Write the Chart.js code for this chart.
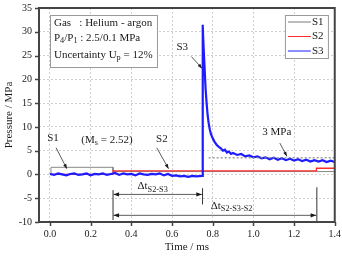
<!DOCTYPE html>
<html>
<head>
<meta charset="utf-8">
<script src="https://cdn.jsdelivr.net/npm/chart.js@4.4.1/dist/chart.umd.min.js"></script>
<style>
  html, body { margin: 0; padding: 0; background: #fff; }
  #wrap { width: 342px; height: 256px; }
</style>
</head>
<body>
<div id="wrap"><canvas id="chart"></canvas></div>
<script>
// --- data ---
const seriesNames = ['S1', 'S2', 'S3'];
const seriesColors = ['#7a7a7a', '#ff2a2a', '#1c1cff'];
const xTicks = [0.0, 0.2, 0.4, 0.6, 0.8, 1.0, 1.2, 1.4];
const yTicks = [-10, -5, 0, 5, 10, 15, 20, 25, 30, 35];

// S1 : incident shock arrives right after t = 0
const s1Time = [0.0, 0.005, 0.005, 0.31, 0.31, 1.31, 1.31, 1.40];
const s1Pres = [0.0, 0.0, 1.5, 1.5, 0.6, 0.6, 0.6, 0.6];

// S2 : incident shock ~0.31 ms, reflected shock ~1.31 ms
const s2Time = [0.0, 0.31, 0.31, 1.31, 1.31, 1.40];
const s2Pres = [0.0, 0.0, 0.75, 0.75, 1.3, 1.3];

// S3 : end wall, reflected peak at 0.75 ms then decay to ~3 MPa
const s3Time = [
  0.00, 0.02, 0.04, 0.06, 0.08, 0.10, 0.12, 0.14, 0.16, 0.18,
  0.20, 0.22, 0.24, 0.26, 0.28, 0.30, 0.32, 0.34, 0.36, 0.38,
  0.40, 0.42, 0.44, 0.46, 0.48, 0.50, 0.52, 0.54, 0.56, 0.58,
  0.60, 0.62, 0.64, 0.66, 0.68, 0.70, 0.72, 0.748,
  0.750, 0.752, 0.756, 0.760, 0.765, 0.770, 0.775, 0.780, 0.786, 0.792,
  0.80, 0.81, 0.82, 0.83, 0.84, 0.85, 0.86, 0.87, 0.88, 0.89,
  0.90, 0.92, 0.94, 0.96, 0.98, 1.00, 1.02, 1.04, 1.06, 1.08,
  1.10, 1.12, 1.14, 1.16, 1.18, 1.20, 1.22, 1.24, 1.26, 1.28,
  1.30, 1.32, 1.34, 1.36, 1.38, 1.40
];
const s3Pres = [
  0.1, -0.1, 0.2, 0.0, -0.2, 0.1, 0.2, -0.1, 0.0, 0.2,
  -0.2, 0.1, 0.0, 0.2, -0.1, 0.1, 0.3, -0.1, 0.2, 0.0,
  0.1, -0.2, 0.2, 0.0, -0.1, 0.1, 0.0, 0.2, -0.2, 0.1,
  -0.3, -0.2, -0.4, -0.3, -0.5, -0.3, -0.4, -0.3,
  31.5, 31.0, 26.0, 22.5, 18.0, 15.0, 12.5, 10.8, 9.4, 8.4,
  7.6, 6.8, 6.2, 5.8, 5.5, 5.0, 5.2, 4.6, 4.8, 4.3,
  4.5, 4.1, 4.3, 3.8, 4.0, 3.6, 3.8, 3.4, 3.6, 3.2,
  3.5, 3.1, 3.4, 3.0, 3.3, 2.9, 3.2, 2.8, 3.1, 2.7,
  3.0, 2.7, 3.0, 2.6, 2.9, 2.6
];

const FONT = 'Liberation Serif';
const INK = '#1a1a1a';

function makeSet(t, p, i, width, order) {
  return {
    label: seriesNames[i],
    data: t.map((x, k) => ({ x, y: p[k] })),
    borderColor: seriesColors[i],
    borderWidth: width,
    pointRadius: 0,
    tension: 0,
    fill: false,
    order
  };
}

// text with subscripts: parts = [[text, isSub], ...]
function richWidth(ctx, parts, size) {
  let w = 0;
  parts.forEach(([s, sub]) => {
    ctx.font = `${sub ? size * 0.75 : size}px "${FONT}"`;
    w += ctx.measureText(s).width;
  });
  return w;
}
function drawRich(ctx, x, y, parts, size, align) {
  let cx = align === 'center' ? x - richWidth(ctx, parts, size) / 2 : x;
  ctx.textBaseline = 'middle';
  ctx.textAlign = 'left';
  ctx.fillStyle = INK;
  parts.forEach(([s, sub]) => {
    ctx.font = `${sub ? size * 0.75 : size}px "${FONT}"`;
    ctx.fillText(s, cx, sub ? y + size * 0.3 : y);
    cx += ctx.measureText(s).width;
  });
}
function arrow(ctx, x1, y1, x2, y2, head) {
  const a = Math.atan2(y2 - y1, x2 - x1);
  ctx.beginPath();
  ctx.moveTo(x1, y1);
  ctx.lineTo(x2, y2);
  ctx.stroke();
  ctx.beginPath();
  ctx.moveTo(x2, y2);
  ctx.lineTo(x2 - head * Math.cos(a - 0.35), y2 - head * Math.sin(a - 0.35));
  ctx.lineTo(x2 - head * Math.cos(a + 0.35), y2 - head * Math.sin(a + 0.35));
  ctx.closePath();
  ctx.fill();
}

const overlay = {
  id: 'overlay',
  afterDatasetsDraw(chart) {
    const { ctx, chartArea: a } = chart;
    const X = v => chart.scales.x.getPixelForValue(v);
    const Y = v => chart.scales.y.getPixelForValue(v);
    ctx.save();

    // 3 MPa reference line
    ctx.strokeStyle = '#888';
    ctx.lineWidth = 1.2;
    ctx.setLineDash([2, 2]);
    ctx.beginPath();
    ctx.moveTo(X(0.78), Y(3.5));
    ctx.lineTo(X(1.4), Y(3.5));
    ctx.stroke();
    ctx.setLineDash([]);

    // info box
    const bx = X(0.0), by = a.top + 7, bw = 107, bh = 52;
    ctx.fillStyle = '#fff';
    ctx.fillRect(bx, by, bw, bh);
    ctx.strokeStyle = '#999';
    ctx.lineWidth = 1;
    ctx.strokeRect(bx + 0.5, by + 0.5, bw, bh);
    drawRich(ctx, bx + 4, by + 8, [['Gas   : Helium - argon', false]], 11);
    drawRich(ctx, bx + 4, by + 23, [['P', false], ['4', true], ['/P', false], ['1', true], [' : 2.5/0.1 MPa', false]], 11);
    drawRich(ctx, bx + 4, by + 40, [['Uncertainty U', false], ['p', true], [' = 12%', false]], 11);

    // legend
    const lx = X(1.155), ly = a.top + 7, lw = 43, lh = 43;
    ctx.fillStyle = '#fff';
    ctx.fillRect(lx, ly, lw, lh);
    ctx.strokeStyle = '#999';
    ctx.strokeRect(lx + 0.5, ly + 0.5, lw, lh);
    seriesNames.forEach((name, i) => {
      const yy = ly + 7 + i * 14.5;
      ctx.strokeStyle = seriesColors[i];
      ctx.lineWidth = 1;
      ctx.beginPath();
      ctx.moveTo(lx + 3, yy);
      ctx.lineTo(lx + 26, yy);
      ctx.stroke();
      drawRich(ctx, lx + 27, yy, [[name, false]], 11);
    });

    // labels + arrows
    ctx.strokeStyle = '#333';
    ctx.fillStyle = '#111';
    ctx.lineWidth = 0.8;
    drawRich(ctx, X(0.65), Y(26.7), [['S3', false]], 11, 'center');
    arrow(ctx, X(0.695), Y(24.8), X(0.748), Y(22.3), 5);
    ctx.fillStyle = '#111';
    drawRich(ctx, X(0.015), Y(7.6), [['S1', false]], 11, 'center');
    arrow(ctx, X(0.03), Y(5.6), X(0.083), Y(1.2), 5);
    drawRich(ctx, X(0.28), Y(7.3), [['(M', false], ['s', true], [' = 2.52)', false]], 11, 'center');
    drawRich(ctx, X(0.55), Y(7.4), [['S2', false]], 11, 'center');
    arrow(ctx, X(0.525), Y(5.6), X(0.583), Y(1.2), 5);
    drawRich(ctx, X(1.115), Y(8.8), [['3 MPa', false]], 11, 'center');
    arrow(ctx, X(1.13), Y(6.6), X(1.165), Y(3.8), 5);

    // time-interval brackets
    ctx.strokeStyle = '#333';
    ctx.lineWidth = 1;
    ctx.beginPath();
    ctx.moveTo(X(0.31), Y(-3.3));
    ctx.lineTo(X(0.31), Y(-9.6));
    ctx.moveTo(X(0.75), Y(-2.9));
    ctx.lineTo(X(0.75), Y(-6.3));
    ctx.moveTo(X(1.312), Y(-2.7));
    ctx.lineTo(X(1.312), Y(-10));
    ctx.stroke();
    ctx.lineWidth = 0.8;
    arrow(ctx, X(0.5), Y(-4.2), X(0.312), Y(-4.2), 6);
    arrow(ctx, X(0.5), Y(-4.2), X(0.747), Y(-4.2), 6);
    arrow(ctx, X(0.8), Y(-8.6), X(0.312), Y(-8.6), 6);
    arrow(ctx, X(0.8), Y(-8.6), X(1.309), Y(-8.6), 6);
    drawRich(ctx, X(0.43), Y(-2.5), [['\u0394t', false], ['S2-S3', true]], 11);
    drawRich(ctx, X(0.79), Y(-6.6), [['\u0394t', false], ['S2-S3-S2', true]], 11);

    ctx.restore();
  },
  afterDraw(chart) {
    const { ctx, chartArea: a } = chart;
    const xs = chart.scales.x, ys = chart.scales.y;
    ctx.save();
    ctx.strokeStyle = '#444';
    ctx.lineWidth = 1.5;
    ctx.beginPath();
    xTicks.forEach(v => {
      const p = Math.round(xs.getPixelForValue(v)) + 0.5;
      ctx.moveTo(p, a.bottom);
      ctx.lineTo(p, a.bottom + 4);
    });
    yTicks.forEach(v => {
      const p = Math.round(ys.getPixelForValue(v)) + 0.5;
      ctx.moveTo(a.left, p);
      ctx.lineTo(a.left - 4, p);
    });
    ctx.stroke();
    ctx.lineWidth = 2;
    ctx.strokeRect(a.left, a.top, a.right - a.left, a.bottom - a.top);
    ctx.restore();
  }
};

const gridStyle = { color: '#c4c4c4', lineWidth: 0.8, tickColor: 'transparent', tickLength: 5 };

new Chart(document.getElementById('chart'), {
  type: 'line',
  data: {
    datasets: [
      makeSet(s1Time, s1Pres, 0, 0.9, 3),
      makeSet(s2Time, s2Pres, 1, 1.3, 2),
      makeSet(s3Time, s3Pres, 2, 2.2, 1)
    ]
  },
  options: {
    responsive: true,
    maintainAspectRatio: false,
    animation: false,
    layout: { padding: { top: 3, right: 6, left: 0, bottom: 0 } },
    plugins: { legend: { display: false }, tooltip: { enabled: false } },
    scales: {
      x: {
        type: 'linear',
        min: -0.054,
        max: 1.4,
        afterBuildTicks: s => { s.ticks = xTicks.map(v => ({ value: v })); },
        afterFit: s => { s.height = 34; },
        border: { display: false, dash: [2, 2] },
        grid: gridStyle,
        ticks: {
          callback: v => Number(v).toFixed(1),
          font: { family: FONT, size: 10 },
          color: INK,
          padding: 1,
          maxRotation: 0
        },
        title: { display: true, text: 'Time / ms', font: { family: FONT, size: 11 }, color: INK, padding: { top: 0, bottom: 2 } }
      },
      y: {
        type: 'linear',
        min: -10,
        max: 35,
        afterBuildTicks: s => { s.ticks = yTicks.map(v => ({ value: v })); },
        afterFit: s => { s.width = 39; },
        border: { display: false, dash: [2, 2] },
        grid: gridStyle,
        ticks: {
          font: { family: FONT, size: 10 },
          color: INK,
          padding: 2
        },
        title: { display: true, text: 'Pressure / MPa', font: { family: FONT, size: 11 }, color: INK, padding: { top: 3, bottom: 0 } }
      }
    }
  },
  plugins: [overlay]
});
</script>
</body>
</html>
